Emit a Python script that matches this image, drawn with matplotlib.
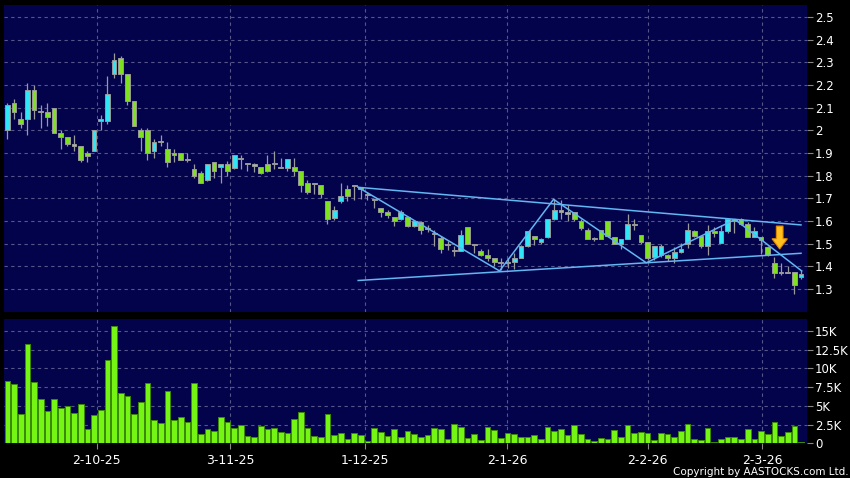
import numpy as np
import matplotlib
matplotlib.use("Agg")
import matplotlib.pyplot as plt
from matplotlib.ticker import FixedLocator, FuncFormatter

# daily OHLC
opens = [2.00, 2.12, 2.05, 2.05, 2.18, 2.08, 2.08, 2.10, 1.99, 1.97,
         1.94, 1.93, 1.90, 1.91, 2.04, 2.04, 2.25, 2.32, 2.25, 2.13,
         2.00, 2.00, 1.91, 1.955, 1.92, 1.90, 1.90, 1.87, 1.83, 1.81,
         1.78, 1.86, 1.84, 1.85, 1.835, 1.88, 1.85, 1.85, 1.84, 1.85,
         1.85, 1.835, 1.833, 1.84, 1.82, 1.77, 1.763, 1.76, 1.69, 1.615,
         1.687, 1.74, 1.753, 1.75, 1.715, 1.694, 1.657, 1.64, 1.618, 1.61,
         1.616, 1.58, 1.598, 1.566, 1.542, 1.525, 1.496, 1.469, 1.47, 1.576,
         1.496, 1.466, 1.449, 1.437, 1.415, 1.415, 1.418, 1.437, 1.488, 1.536,
         1.507, 1.53, 1.609, 1.648, 1.63, 1.64, 1.60, 1.56, 1.52, 1.56,
         1.60, 1.53, 1.50, 1.521, 1.589, 1.54, 1.508, 1.44, 1.452, 1.45,
         1.436, 1.465, 1.50, 1.558, 1.534, 1.49, 1.557, 1.505, 1.558, 1.608,
         1.608, 1.587, 1.528, 1.528, 1.487, 1.416, 1.372, 1.372, 1.377, 1.355]
highs = [2.12, 2.14, 2.08, 2.21, 2.20, 2.11, 2.12, 2.10, 2.00, 1.97,
         1.98, 1.93, 1.91, 2.00, 2.07, 2.24, 2.34, 2.33, 2.25, 2.13,
         2.01, 2.01, 1.96, 1.98, 1.95, 1.92, 1.90, 1.90, 1.85, 1.82,
         1.85, 1.86, 1.85, 1.867, 1.89, 1.89, 1.855, 1.855, 1.84, 1.89,
         1.907, 1.88, 1.874, 1.88, 1.822, 1.78, 1.765, 1.76, 1.69, 1.665,
         1.768, 1.76, 1.76, 1.75, 1.73, 1.695, 1.657, 1.65, 1.62, 1.65,
         1.62, 1.606, 1.60, 1.583, 1.562, 1.532, 1.51, 1.49, 1.559, 1.576,
         1.497, 1.476, 1.476, 1.437, 1.437, 1.437, 1.459, 1.495, 1.558, 1.536,
         1.524, 1.609, 1.698, 1.692, 1.673, 1.64, 1.61, 1.57, 1.53, 1.56,
         1.60, 1.53, 1.52, 1.63, 1.61, 1.54, 1.508, 1.49, 1.50, 1.457,
         1.487, 1.502, 1.59, 1.56, 1.534, 1.583, 1.572, 1.583, 1.608, 1.61,
         1.612, 1.597, 1.572, 1.53, 1.49, 1.443, 1.413, 1.40, 1.377, 1.384]
lows = [1.96, 2.05, 2.01, 1.98, 2.05, 2.01, 2.02, 1.99, 1.92, 1.93,
        1.91, 1.86, 1.86, 1.91, 2.00, 2.03, 2.23, 2.21, 2.11, 2.02,
        1.91, 1.87, 1.88, 1.93, 1.84, 1.86, 1.87, 1.86, 1.79, 1.77,
        1.775, 1.79, 1.77, 1.80, 1.83, 1.83, 1.82, 1.815, 1.807, 1.815,
        1.83, 1.833, 1.82, 1.80, 1.73, 1.72, 1.72, 1.70, 1.585, 1.605,
        1.68, 1.687, 1.694, 1.697, 1.694, 1.657, 1.62, 1.613, 1.577, 1.606,
        1.574, 1.573, 1.544, 1.554, 1.49, 1.459, 1.474, 1.447, 1.47, 1.50,
        1.459, 1.447, 1.422, 1.404, 1.386, 1.393, 1.39, 1.437, 1.485, 1.496,
        1.50, 1.525, 1.603, 1.61, 1.599, 1.60, 1.56, 1.52, 1.51, 1.52,
        1.53, 1.497, 1.477, 1.52, 1.56, 1.50, 1.43, 1.43, 1.44, 1.425,
        1.416, 1.458, 1.48, 1.53, 1.48, 1.45, 1.53, 1.505, 1.546, 1.546,
        1.583, 1.528, 1.528, 1.457, 1.446, 1.347, 1.362, 1.37, 1.278, 1.343]
closes = [2.11, 2.08, 2.03, 2.18, 2.09, 2.08, 2.06, 1.99, 1.97, 1.94,
          1.93, 1.87, 1.885, 2.00, 2.05, 2.16, 2.31, 2.25, 2.13, 2.02,
          1.97, 1.90, 1.95, 1.95, 1.86, 1.89, 1.87, 1.87, 1.80, 1.77,
          1.85, 1.82, 1.85, 1.82, 1.89, 1.875, 1.85, 1.845, 1.81, 1.82,
          1.85, 1.84, 1.874, 1.82, 1.76, 1.73, 1.763, 1.72, 1.61, 1.65,
          1.71, 1.71, 1.753, 1.74, 1.715, 1.694, 1.638, 1.625, 1.60, 1.64,
          1.577, 1.60, 1.562, 1.566, 1.542, 1.477, 1.496, 1.469, 1.537, 1.50,
          1.496, 1.451, 1.437, 1.418, 1.415, 1.415, 1.437, 1.488, 1.558, 1.521,
          1.521, 1.609, 1.648, 1.642, 1.64, 1.61, 1.57, 1.52, 1.52, 1.52,
          1.536, 1.50, 1.52, 1.589, 1.583, 1.508, 1.437, 1.489, 1.489, 1.436,
          1.465, 1.475, 1.56, 1.535, 1.49, 1.558, 1.548, 1.558, 1.608, 1.60,
          1.587, 1.531, 1.558, 1.518, 1.45, 1.37, 1.372, 1.372, 1.318, 1.366]

# volume in thousands
volume = [8.24, 7.84, 3.96, 13.3, 8.2, 5.86, 4.27, 5.9, 4.71, 4.98,
          4.0, 5.2, 1.94, 3.74, 4.49, 11.06, 15.64, 6.74, 6.26, 3.96,
          5.5, 8.06, 3.04, 2.69, 6.92, 3.04, 3.57, 2.86, 8.02, 1.23,
          1.89, 1.67, 3.48, 2.9, 2.07, 2.42, 0.97, 0.88, 2.25, 1.85,
          1.98, 1.5, 1.32, 3.3, 4.19, 1.98, 1.01, 0.88, 3.88, 1.1,
          1.41, 0.62, 1.41, 1.15, 0.3, 2.03, 1.45, 1.01, 1.89, 0.84,
          1.63, 1.19, 0.84, 1.15, 2.03, 1.89, 0.62, 2.51, 2.11, 0.7,
          1.23, 0.48, 2.2, 1.76, 0.7, 1.32, 1.19, 0.88, 0.79, 1.1,
          0.57, 2.11, 1.63, 1.89, 1.1, 2.38, 1.23, 0.53, 0.31, 0.75,
          0.57, 1.76, 0.84, 2.42, 1.37, 1.5, 1.41, 0.44, 1.37, 1.23,
          0.84, 1.67, 2.51, 0.62, 0.48, 1.98, 0.13, 0.57, 0.84, 0.84,
          0.62, 1.94, 0.57, 1.67, 1.23, 2.86, 0.97, 1.5, 2.25, 0.22]

date_pos = [13.4, 33.4, 53.6, 74.9, 96.0, 113.2]
date_labels = ["2-10-25", "3-11-25", "1-12-25", "2-1-26", "2-2-26", "2-3-26"]

price_ticks = [1.3, 1.4, 1.5, 1.6, 1.7, 1.8, 1.9, 2.0, 2.1, 2.2, 2.3, 2.4, 2.5]
vol_ticks = [0, 2.5, 5, 7.5, 10, 12.5, 15]

# drawn lines (candle index, price)
upper_line = [(52.6, 1.749), (119.0, 1.583)]
lower_line = [(52.6, 1.338), (119.0, 1.458)]
zigzag = [(52.6, 1.749), (73.8, 1.38), (81.9, 1.696), (95.8, 1.416),
          (109.1, 1.607), (119.1, 1.38)]
arrow_idx, arrow_top, arrow_tip = 115.8, 1.578, 1.477

NAVY = "#03034c"
GRID = "#55558a"
UP = "#2ee6f5"
DOWN = "#7ee21e"
EDGE = "#9a9a9a"

fig = plt.figure(figsize=(8.5, 4.78), dpi=100, facecolor="black")
ax = fig.add_axes([4 / 850, 1 - 312 / 478, 802.7 / 850, 307 / 478])
axv = fig.add_axes([4 / 850, 1 - 443.3 / 478, 802.7 / 850, 124.3 / 478])

x = np.arange(len(opens))
o = np.array(opens)
c = np.array(closes)

for a in (ax, axv):
    a.set_facecolor(NAVY)
    for s in a.spines.values():
        s.set_visible(False)
    a.set_xlim(-0.5, 119.85)
    a.xaxis.set_major_locator(FixedLocator(date_pos))
    a.yaxis.tick_right()
    a.grid(True, color=GRID, linestyle=(0, (3, 3)), linewidth=0.8)
    a.set_axisbelow(True)
    a.tick_params(axis="y", colors="#888888", labelcolor="white",
                  length=4, width=0.8, pad=2, labelsize=8.5)

# candles
ax.vlines(x, lows, highs, color=EDGE, linewidth=0.9, zorder=2)
colors = [UP if cc > oo else (DOWN if cc < oo else EDGE) for oo, cc in zip(o, c)]
bottoms = np.minimum(o, c)
heights = np.maximum(np.abs(c - o), 0.004)
ax.bar(x, heights, bottom=bottoms, width=0.72, color=colors,
       edgecolor=EDGE, linewidth=0.7, zorder=3)

for pts in (upper_line, lower_line, zigzag):
    px, py = zip(*pts)
    ax.plot(px, py, color="#62b6f2", linewidth=1.1, zorder=4)

# arrow
head = 0.045
ax.fill([arrow_idx - 0.5, arrow_idx + 0.5, arrow_idx + 0.5, arrow_idx + 1.15,
         arrow_idx, arrow_idx - 1.15, arrow_idx - 0.5],
        [arrow_top, arrow_top, arrow_tip + head, arrow_tip + head,
         arrow_tip, arrow_tip + head, arrow_tip + head],
        facecolor="#ffc020", edgecolor="#e08a00", linewidth=0.8, zorder=5)

ax.set_ylim(1.199, 2.553)
ax.yaxis.set_major_locator(FixedLocator(price_ticks))
ax.yaxis.set_major_formatter(FuncFormatter(lambda v, p: f"{v:g}"))
ax.tick_params(axis="x", length=0, labelbottom=False)

# volume
axv.bar(x, volume, width=0.85, color="#74f514", edgecolor="#3b8a06",
        linewidth=0.7, zorder=3)
axv.set_ylim(0, 16.57)
axv.yaxis.set_major_locator(FixedLocator(vol_ticks))
axv.yaxis.set_major_formatter(FuncFormatter(lambda v, p: "0" if v == 0 else f"{v:g}K"))
axv.set_xticklabels(date_labels)
axv.tick_params(axis="x", colors="#888888", labelcolor="white", length=4,
                width=0.8, pad=4, labelsize=9)

fig.text(0.998, 0.003, "Copyright by AASTOCKS.com Ltd.", color="white",
         fontsize=7.5, ha="right", va="bottom")

fig.savefig("out.png", dpi=100, facecolor="black")
